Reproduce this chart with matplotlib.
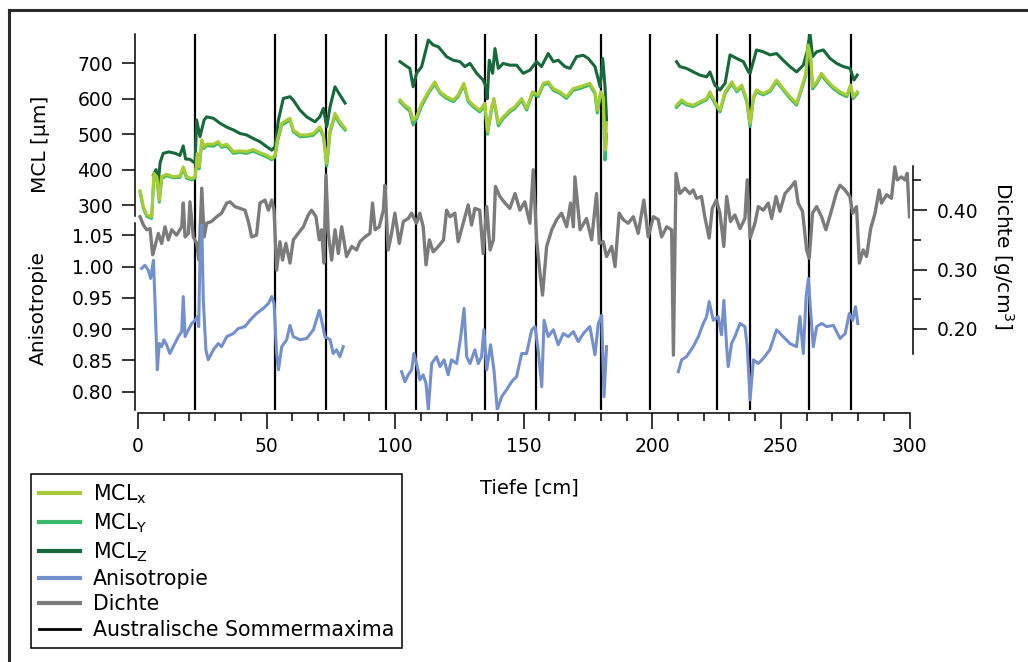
import numpy as np
import matplotlib
matplotlib.use('Agg')
from matplotlib import pyplot as plt
from matplotlib.lines import Line2D

nan = np.nan

# depths [cm] shared by MCL_x and MCL_y, nan marks a gap between core pieces
mcl_xy_depth = [0.8, 2.1, 3.4, 5.3, 6.2, 7.3, 8.3, 9.2, 11.1, 13.7, 16.3, 17.6, 18.9, 20.9, 22.2, 23.1, 23.8,
                24.8, 25.7, 26.7, 29.3, 31.2, 32.5, 34.5, 37.1, 39.7, 42.2, 44.8, 47.4, 50.0, 52.0, 53.3, 54.2,
                55.9, 57.8, 59.1, 60.4, 63.0, 65.6, 68.2, 70.7, 72.1, 73.4, 74.7, 76.6, 78.5, 80.5, nan,
                101.9, 103.8, 105.7, 107.0, 108.3, 110.3, 112.9, 115.4, 117.4, 120.0, 122.6, 124.5, 126.7, 128.4,
                130.4, 132.9, 134.9, 135.9, 137.5, 138.4, 140.1, 142.0, 144.6, 146.6, 149.2, 151.1, 153.4, 155.6,
                157.6, 159.5, 161.5, 164.1, 166.6, 169.2, 171.8, 175.7, 177.7, 178.6, 179.9, 180.9, 181.6, 182.2, nan,
                209.4, 211.4, 213.3, 215.9, 218.5, 221.1, 222.4, 224.3, 226.3, 228.3, 229.6, 230.9, 232.8, 234.8,
                236.7, 238.0, 239.3, 240.5, 243.1, 245.8, 248.3, 250.9, 253.5, 256.1, 258.1, 259.7, 260.6, 261.6,
                262.3, 263.9, 265.8, 267.8, 270.4, 273.0, 275.6, 277.1, 278.1, 279.7]
mcl_x = [340, 295, 272, 267, 389, 380, 314, 380, 387, 380, 382, 408, 380, 375, 380, 446, 408,
         484, 465, 472, 472, 479, 467, 472, 451, 453, 451, 457, 448, 441, 432, 441, 484,
         531, 540, 545, 512, 498, 498, 502, 521, 498, 418, 512, 559, 535, 517, nan,
         597, 582, 573, 540, 549, 587, 620, 648, 620, 606, 597, 611, 644, 597,
         582, 568, 587, 507, 578, 601, 531, 549, 568, 578, 601, 573, 620, 611,
         644, 648, 629, 620, 606, 629, 634, 644, 620, 568, 620, 606, 455, 531, nan,
         582, 597, 587, 582, 592, 601, 620, 592, 568, 620, 634, 648, 625, 639,
         597, 531, 606, 625, 615, 625, 653, 629, 606, 587, 634, 672, 752, 719,
         634, 648, 672, 653, 634, 620, 611, 639, 606, 620]
mcl_y = [336, 290, 268, 262, 383, 376, 308, 375, 383, 377, 378, 402, 376, 371, 376, 440, 402,
         478, 460, 468, 466, 474, 463, 467, 446, 449, 446, 452, 444, 436, 428, 436, 479,
         526, 534, 540, 507, 493, 494, 497, 516, 493, 410, 506, 553, 529, 512, nan,
         592, 577, 565, 526, 543, 580, 615, 642, 616, 601, 592, 606, 639, 592,
         577, 563, 581, 500, 572, 596, 524, 544, 563, 573, 596, 568, 615, 606,
         639, 644, 624, 615, 601, 624, 629, 639, 614, 560, 614, 600, 427, 500, nan,
         576, 591, 583, 578, 588, 597, 614, 587, 563, 615, 629, 643, 620, 634,
         592, 522, 601, 620, 611, 621, 648, 625, 601, 582, 628, 666, 745, 712,
         628, 643, 667, 648, 629, 615, 606, 634, 601, 615]

mcl_z_depth = [6.0, 7.0, 7.8, 8.6, 9.8, 12.0, 14.5, 16.3, 17.6, 18.5, 20.2, 22.2, 22.8, 24.1, 25.7, 26.7,
               29.3, 31.9, 34.5, 37.1, 39.7, 42.2, 44.8, 47.4, 50.0, 52.0, 53.3, 54.6, 56.5, 59.1, 60.4, 63.0,
               65.6, 68.8, 70.7, 72.1, 73.4, 74.7, 76.6, 78.5, 80.5, nan,
               101.9, 103.8, 105.7, 107.0, 108.3, 110.3, 112.9, 114.8, 116.8, 120.0, 122.6, 125.2, 127.1, 129.1,
               131.7, 134.2, 135.3, 135.8, 136.6, 137.9, 138.8, 140.1, 142.0, 144.6, 147.2, 149.8, 152.4, 155.0,
               156.9, 159.5, 161.5, 163.4, 166.0, 168.0, 170.5, 173.1, 175.1, 177.7, 179.7, 180.7, 181.6, 182.2, nan,
               209.4, 210.7, 213.3, 215.9, 218.5, 221.1, 222.4, 224.3, 226.3, 228.3, 230.2, 232.8, 235.4, 237.4,
               238.0, 240.5, 243.1, 245.8, 248.3, 250.9, 253.5, 256.1, 258.7, 260.2, 261.3, 262.3, 263.9, 266.5,
               269.1, 271.7, 274.3, 276.9, 278.4, 279.7]
mcl_z = [385, 400, 355, 420, 446, 450, 446, 440, 467, 430, 429, 418, 540, 493, 540, 549,
         545, 531, 520, 512, 502, 498, 488, 479, 465, 455, 465, 540, 601, 606, 596, 568,
         549, 535, 549, 573, 521, 578, 634, 611, 588, nan,
         705, 695, 686, 634, 672, 691, 766, 752, 747, 719, 709, 705, 691, 700,
         672, 653, 634, 600, 709, 672, 742, 686, 700, 695, 695, 672, 681, 705,
         691, 728, 705, 709, 691, 686, 719, 723, 714, 691, 634, 714, 634, 540, nan,
         705, 691, 686, 676, 667, 662, 676, 639, 625, 644, 724, 714, 705, 676,
         672, 738, 733, 724, 728, 709, 691, 676, 695, 733, 785, 719, 733, 738,
         714, 700, 691, 686, 653, 667]

aniso_depth = [1.4, 2.7, 4.0, 4.9, 6.0, 6.6, 7.5, 8.3, 9.2, 10.1, 11.1, 12.4, 13.7, 15.7, 17.0, 17.6, 18.3,
               19.6, 20.9, 22.2, 23.1, 23.6, 24.1, 24.8, 25.4, 26.4, 27.3, 29.3, 31.2, 32.5, 34.5, 37.1, 39.0,
               41.6, 43.5, 46.1, 48.7, 50.7, 52.0, 52.9, 53.9, 54.6, 55.9, 57.8, 59.1, 60.4, 63.0, 65.6, 68.2,
               70.5, 71.4, 72.7, 74.7, 75.9, 77.2, 78.5, 79.8, nan,
               102.5, 103.8, 105.1, 106.4, 107.3, 108.3, 109.6, 110.9, 112.0, 112.9, 114.2, 116.1, 117.4, 119.0,
               120.6, 121.9, 123.9, 125.5, 126.8, 127.8, 129.1, 131.0, 132.3, 133.6, 134.5, 135.6, 137.1, 138.4,
               139.7, 141.4, 143.3, 145.3, 147.2, 149.2, 151.1, 153.1, 154.4, 155.6, 157.0, 157.9, 159.5, 161.5,
               163.4, 165.4, 167.3, 169.3, 171.2, 173.2, 175.7, 177.7, 179.0, 180.3, 181.2, 182.2, nan,
               210.1, 211.4, 213.3, 215.9, 217.9, 219.8, 221.1, 222.1, 223.7, 225.6, 226.9, 227.8, 228.9, 229.5,
               230.8, 232.1, 234.1, 236.0, 236.9, 238.0, 239.3, 241.2, 243.1, 245.7, 248.3, 250.9, 253.5, 256.1,
               257.4, 258.7, 259.8, 260.7, 261.6, 262.6, 263.9, 265.9, 267.8, 270.4, 273.0, 275.0, 276.6, 277.9,
               279.0, 279.9]
aniso = [0.997, 1.002, 0.994, 0.981, 1.010, 0.946, 0.835, 0.877, 0.872, 0.883, 0.875, 0.861, 0.872, 0.888,
         0.896, 0.952, 0.888, 0.899, 0.909, 0.914, 0.920, 0.904, 1.016, 1.066, 0.946, 0.867, 0.851, 0.867,
         0.877, 0.872, 0.888, 0.893, 0.901, 0.904, 0.914, 0.925, 0.933, 0.941, 0.952, 0.941, 0.861, 0.835,
         0.872, 0.883, 0.906, 0.888, 0.883, 0.885, 0.899, 0.930, 0.914, 0.888, 0.883, 0.861, 0.867, 0.856,
         0.872, nan,
         0.832, 0.816, 0.827, 0.835, 0.861, 0.845, 0.819, 0.827, 0.813, 0.771, 0.845, 0.856, 0.840, 0.851,
         0.827, 0.851, 0.845, 0.888, 0.933, 0.856, 0.845, 0.867, 0.845, 0.856, 0.899, 0.835, 0.875, 0.835,
         0.771, 0.792, 0.803, 0.816, 0.824, 0.861, 0.861, 0.899, 0.904, 0.867, 0.808, 0.914, 0.888, 0.899,
         0.875, 0.893, 0.888, 0.896, 0.880, 0.893, 0.904, 0.859, 0.909, 0.922, 0.792, 0.872, nan,
         0.832, 0.851, 0.856, 0.872, 0.888, 0.909, 0.920, 0.944, 0.914, 0.920, 0.891, 0.946, 0.872, 0.840,
         0.877, 0.888, 0.909, 0.904, 0.872, 0.787, 0.851, 0.845, 0.853, 0.867, 0.899, 0.888, 0.877, 0.872,
         0.920, 0.861, 0.952, 0.981, 0.925, 0.872, 0.904, 0.909, 0.904, 0.906, 0.885, 0.893, 0.925, 0.914,
         0.936, 0.909]

dichte_depth = [0.8, 2.1, 3.4, 4.7, 5.7, 6.6, 7.9, 9.2, 10.5, 11.8, 13.1, 15.0, 17.0, 17.6, 18.3, 19.6, 20.2,
                21.5, 22.8, 23.7, 24.8, 25.7, 26.7, 28.6, 30.6, 32.5, 34.5, 35.8, 37.7, 39.7, 41.6, 42.9, 44.2,
                46.1, 47.4, 49.4, 50.7, 52.0, 52.9, 53.9, 55.2, 56.2, 57.5, 59.1, 60.4, 62.3, 64.3, 66.2, 67.5,
                69.2, 70.5, 71.4, 72.3, 73.1, 74.0, 75.3, 76.6, 77.9, 79.2, 81.1, 83.1, 85.0, 86.3, 88.3, 90.2,
                91.2, 92.2, 93.8, 95.4, 96.0, 97.3, 98.6, 99.9, 101.6, 103.2, 105.1, 106.4, 108.3, 109.6, 110.9,
                112.0, 113.3, 114.8, 116.8, 118.8, 120.0, 121.3, 123.2, 124.5, 128.4, 129.7, 131.0, 132.9, 134.2,
                135.6, 136.9, 138.2, 139.0, 140.7, 142.7, 144.6, 146.6, 148.5, 150.4, 152.4, 153.7, 155.0, 156.3,
                157.3, 158.9, 160.9, 162.8, 164.7, 166.7, 168.2, 169.3, 169.9, 171.9, 174.4, 176.4, 178.3, 179.4,
                180.9, 182.2, 184.2, 185.5, 187.1, 188.7, 190.6, 192.6, 194.5, 196.7, 198.4, 200.4, 202.3, 203.6,
                205.6, 207.5, 208.2, 209.2, 210.7, 212.7, 214.6, 215.9, 217.2, 219.1, 220.4, 222.1, 223.3, 224.9,
                226.3, 227.8, 228.9, 230.4, 232.1, 234.1, 236.0, 236.9, 238.0, 239.9, 241.2, 243.1, 245.1, 246.4,
                248.1, 249.6, 251.6, 253.5, 255.5, 256.7, 258.4, 260.0, 261.0, 262.3, 263.9, 265.8, 267.5, 269.7,
                271.7, 273.0, 274.9, 276.8, 277.9, 279.4, 280.5, 282.0, 283.3, 284.9, 286.6, 288.2, 289.1, 291.1,
                293.0, 294.3, 295.2, 296.9, 298.2, 299.1, 300.0]
dichte = [0.389, 0.375, 0.367, 0.369, 0.325, 0.339, 0.361, 0.344, 0.372, 0.350, 0.367, 0.358, 0.372, 0.412,
          0.355, 0.361, 0.414, 0.355, 0.344, 0.316, 0.437, 0.355, 0.378, 0.381, 0.389, 0.395, 0.412, 0.414,
          0.406, 0.403, 0.400, 0.381, 0.355, 0.358, 0.412, 0.417, 0.400, 0.417, 0.400, 0.299, 0.347, 0.316,
          0.344, 0.311, 0.350, 0.361, 0.372, 0.392, 0.400, 0.389, 0.350, 0.367, 0.311, 0.459, 0.361, 0.316,
          0.367, 0.327, 0.372, 0.322, 0.339, 0.333, 0.347, 0.355, 0.361, 0.412, 0.367, 0.372, 0.400, 0.442,
          0.333, 0.361, 0.395, 0.344, 0.381, 0.386, 0.395, 0.378, 0.395, 0.372, 0.308, 0.350, 0.330, 0.339,
          0.350, 0.400, 0.389, 0.395, 0.347, 0.409, 0.375, 0.403, 0.400, 0.327, 0.406, 0.333, 0.350, 0.440,
          0.423, 0.412, 0.403, 0.428, 0.400, 0.414, 0.378, 0.468, 0.350, 0.294, 0.257, 0.339, 0.367, 0.384,
          0.395, 0.372, 0.412, 0.372, 0.456, 0.367, 0.386, 0.350, 0.428, 0.344, 0.347, 0.322, 0.339, 0.305,
          0.395, 0.384, 0.378, 0.389, 0.361, 0.417, 0.355, 0.389, 0.384, 0.355, 0.372, 0.367, 0.156, 0.462,
          0.428, 0.437, 0.428, 0.434, 0.420, 0.423, 0.389, 0.353, 0.403, 0.417, 0.395, 0.339, 0.423, 0.381,
          0.392, 0.369, 0.386, 0.451, 0.353, 0.378, 0.406, 0.400, 0.412, 0.386, 0.423, 0.398, 0.428, 0.437,
          0.448, 0.412, 0.398, 0.333, 0.319, 0.395, 0.406, 0.389, 0.367, 0.400, 0.431, 0.442, 0.434, 0.423,
          0.395, 0.406, 0.311, 0.333, 0.322, 0.369, 0.395, 0.434, 0.412, 0.426, 0.420, 0.473, 0.451, 0.456,
          0.451, 0.462, 0.389]

# depths of the austral summer maxima [cm]
sommermaxima = [22.2, 53.3, 73.0, 96.5, 108.2, 135.1, 154.9, 180.0, 198.9, 225.2, 237.9, 261.0, 277.3]

c_x = '#a8cc38'
c_y = '#3bb96a'
c_z = '#17683a'
c_aniso = '#7490cc'
c_dichte = '#7b7b7b'

plt.rcParams['font.family'] = 'DejaVu Sans'
plt.rcParams['mathtext.default'] = 'regular'
W, H = 1028, 662
fig = plt.figure(figsize=(W / 100, H / 100), dpi=100)

def px(x, y):
    return x / W, 1 - y / H

rect = [138 / W, 1 - 410 / H, (909.5 - 138) / W, (410 - 34) / H]
ax_d = fig.add_axes(rect)
ax_a = fig.add_axes(rect, sharex=ax_d)
ax_m = fig.add_axes(rect, sharex=ax_d)
for ax in (ax_a, ax_m):
    ax.patch.set_visible(False)
for ax in (ax_d, ax_a, ax_m):
    for s in ax.spines.values():
        s.set_visible(False)
    ax.tick_params(labelsize=13.5, width=1.1, colors='black')

# summer maxima and density in the back
for d in sommermaxima:
    ax_d.axvline(d, color='black', lw=1.6, zorder=1)
ax_d.plot(dichte_depth, dichte, color=c_dichte, lw=2.4, zorder=2)
ax_a.plot(aniso_depth, aniso, color=c_aniso, lw=2.2)
ax_m.plot(mcl_z_depth, mcl_z, color=c_z, lw=2.2)
ax_m.plot(mcl_xy_depth, mcl_y, color=c_y, lw=2.2)
ax_m.plot(mcl_xy_depth, mcl_x, color=c_x, lw=2.2)

ax_d.set_xlim(0, 300)
ax_m.set_ylim(-279.1, 783.1)
ax_a.set_ylim(0.7708, 1.3714)
ax_d.set_ylim(0.0636, 0.6966)

# depth axis
ax_d.spines['bottom'].set_visible(True)
ax_d.spines['bottom'].set_position(('outward', 2.2))
ax_d.spines['bottom'].set_linewidth(1.1)
ax_d.set_xticks(range(0, 301, 50))
ax_d.set_xticks(range(0, 301, 10), minor=True)
ax_d.tick_params(axis='x', which='major', length=11.5, pad=6)
ax_d.tick_params(axis='x', which='minor', length=5.8, width=1.1)
for ax in (ax_a, ax_m):
    ax.tick_params(axis='x', which='both', bottom=False, labelbottom=False)

# density on the right
ax_d.yaxis.tick_right()
ax_d.spines['right'].set_visible(True)
ax_d.spines['right'].set_position(('outward', 2.5))
ax_d.spines['right'].set_bounds(0.1579, 0.4744)
ax_d.spines['right'].set_linewidth(1.1)
ax_d.set_yticks([0.20, 0.30, 0.40])
ax_d.set_yticklabels(['0.20', '0.30', '0.40'])
ax_d.set_yticks([0.25, 0.35, 0.45], minor=True)
ax_d.tick_params(axis='y', which='major', length=10, pad=7)
ax_d.tick_params(axis='y', which='minor', length=5.5, width=1.1)

# anisotropy and MCL on the left
ax_a.spines['left'].set_visible(True)
ax_a.spines['left'].set_position(('outward', 2.5))
ax_a.spines['left'].set_bounds(0.7708, 1.0695)
ax_a.spines['left'].set_linewidth(1.1)
ax_a.set_yticks([0.80, 0.85, 0.90, 0.95, 1.00, 1.05])
ax_a.set_yticklabels(['0.80', '0.85', '0.90', '0.95', '1.00', '1.05'])
ax_a.tick_params(axis='y', length=9.5, pad=6)

ax_m.spines['left'].set_visible(True)
ax_m.spines['left'].set_position(('outward', 2.5))
ax_m.spines['left'].set_bounds(270, 783.1)
ax_m.spines['left'].set_linewidth(1.1)
ax_m.set_yticks([300, 400, 500, 600, 700])
ax_m.tick_params(axis='y', length=9.5, pad=6)

fig.text(*px(41, 144), 'MCL [µm]', rotation=90, ha='center', va='center', fontsize=14.5)
fig.text(*px(38.5, 308), 'Anisotropie', rotation=90, ha='center', va='center', fontsize=14.5)
fig.text(*px(1003, 256), 'Dichte [g/cm$^3$]', rotation=-90, ha='center', va='center', fontsize=14.5)
fig.text(*px(529, 488), 'Tiefe [cm]', ha='center', va='center', fontsize=14)

handles = [Line2D([], [], color=c_x, lw=3),
           Line2D([], [], color=c_y, lw=3),
           Line2D([], [], color=c_z, lw=3),
           Line2D([], [], color=c_aniso, lw=3),
           Line2D([], [], color=c_dichte, lw=3),
           Line2D([], [], color='black', lw=2)]
labels = ['MCL$_x$', 'MCL$_Y$', 'MCL$_Z$', 'Anisotropie', 'Dichte', 'Australische Sommermaxima']
leg = fig.legend(handles, labels, loc='upper left', bbox_to_anchor=px(31, 474), borderaxespad=0,
                 fontsize=14.8, frameon=True, fancybox=False, edgecolor='black', framealpha=1,
                 handlelength=2.0, handletextpad=0.6, borderpad=0.4, labelspacing=0.26)
leg.get_frame().set_linewidth(1.1)

# outer frame
fig.add_artist(Line2D([9 / W, 1], [1 - 9.5 / H, 1 - 9.5 / H], color='#2b2b2b', lw=2.2))
fig.add_artist(Line2D([9 / W, 9 / W], [0, 1 - 9.5 / H], color='#2b2b2b', lw=2.2))

fig.savefig('out.png', dpi=100)
